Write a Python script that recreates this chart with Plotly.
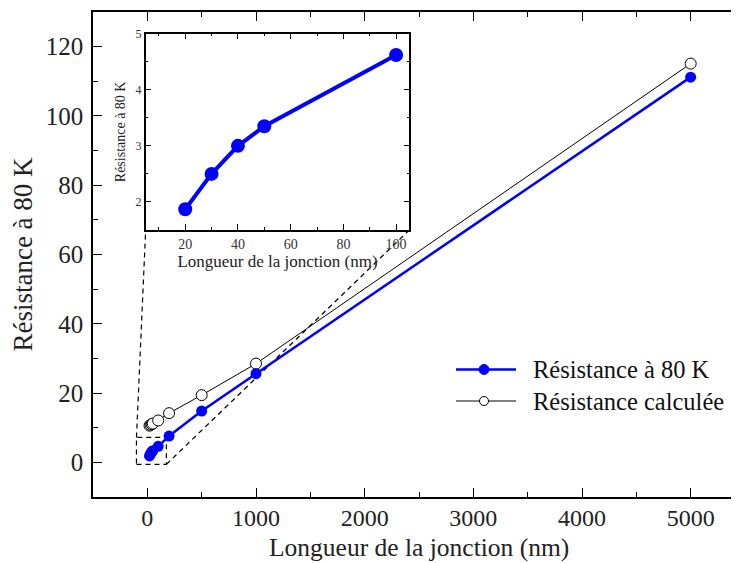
import plotly.graph_objects as go

# ---------------- data ----------------
longueur = [20, 30, 40, 50, 100, 200, 500, 1000, 5000]
r_80k = [1.87, 2.5, 3.0, 3.35, 4.62, 7.6, 14.8, 25.6, 111.2]
r_calc = [10.6, 10.8, 11.0, 11.2, 12.1, 14.2, 19.4, 28.5, 115.1]

inset_longueur = [20, 30, 40, 50, 100]
inset_r_80k = [1.87, 2.5, 3.0, 3.35, 4.62]

x_title = "Longueur de la jonction (nm)"
y_title = "Résistance à 80 K"
legend_names = ["Résistance à 80 K", "Résistance calculée"]

main_x_ticks = [0, 1000, 2000, 3000, 4000, 5000]
main_y_ticks = [0, 20, 40, 60, 80, 100, 120]
inset_x_ticks = [20, 40, 60, 80, 100]
inset_y_ticks = [2, 3, 4, 5]

# ---------------- style ----------------
FONT = "Liberation Serif"
BLUE = "#0000ff"
W, H = 739, 563
OFF = 8  # page body margin offset of the rendered figure
ML, MR, MT, MB = 85, 2, 4, 74
XR = [-500, 5500]
YR = [-10, 130]
INSET_XD = [0.0808, 0.4851]
INSET_YD = [0.5505, 0.9553]
zoom_box = dict(x0=-100, x1=175, y0=-0.6, y1=7.2)

fig = go.Figure()

fig.add_trace(go.Scatter(
    x=longueur, y=r_calc, mode="lines+markers", name=legend_names[1],
    line=dict(color="black", width=1),
    marker=dict(symbol="circle", size=11, color="white",
                line=dict(color="black", width=1)),
    showlegend=False, xaxis="x", yaxis="y"))
fig.add_trace(go.Scatter(
    x=longueur, y=r_80k, mode="lines+markers", name=legend_names[0],
    line=dict(color=BLUE, width=2.5),
    marker=dict(symbol="circle", size=11, color=BLUE),
    showlegend=False, xaxis="x", yaxis="y"))

fig.add_trace(go.Scatter(
    x=inset_longueur, y=inset_r_80k, mode="lines+markers",
    line=dict(color=BLUE, width=4),
    marker=dict(symbol="circle", size=14, color=BLUE),
    showlegend=False, xaxis="x2", yaxis="y2"))

axis_common = dict(showline=True, linecolor="black", linewidth=1.5,
                   mirror="ticks", ticks="inside", tickcolor="black",
                   showgrid=False, zeroline=False, automargin=False)

fig.update_layout(
    width=W, height=H, autosize=False,
    margin=dict(l=ML, r=MR, t=MT, b=MB, pad=0),
    paper_bgcolor="white", plot_bgcolor="white",
    font=dict(family=FONT, color="#111111"),
    xaxis=dict(domain=[0, 1], range=XR, tickvals=main_x_ticks,
               ticklen=9, tickwidth=1.3, ticklabelstandoff=-2,
               minor=dict(dtick=500, tick0=0, ticklen=5, ticks="inside",
                          tickcolor="black", tickwidth=1.1),
               tickfont=dict(size=24, family=FONT, color="#222"),
               **axis_common),
    yaxis=dict(domain=[0, 1], range=YR, tickvals=main_y_ticks,
               ticklen=9, tickwidth=1.3, ticklabelstandoff=3,
               minor=dict(dtick=10, tick0=0, ticklen=5, ticks="inside",
                          tickcolor="black", tickwidth=1.1),
               tickfont=dict(size=25, family=FONT, color="#222"),
               title=dict(text=y_title, font=dict(size=27, family=FONT, color="#222"),
                          standoff=5),
               **axis_common),
    xaxis2=dict(domain=INSET_XD, anchor="y2", range=[5, 105], tickvals=inset_x_ticks,
                ticklen=6, tickwidth=1,
                minor=dict(dtick=10, tick0=0, ticklen=3, ticks="inside",
                           tickcolor="black", tickwidth=1),
                tickfont=dict(size=14, family=FONT, color="#333"),
                title=dict(text=x_title, font=dict(size=17, family=FONT, color="#222"),
                           standoff=2),
                **axis_common),
    yaxis2=dict(domain=INSET_YD, anchor="x2", range=[1.5, 5], tickvals=inset_y_ticks,
                ticklen=6, tickwidth=1,
                minor=dict(dtick=0.5, tick0=0, ticklen=3, ticks="inside",
                           tickcolor="black", tickwidth=1),
                tickfont=dict(size=12, family=FONT, color="#333"),
                title=dict(text=y_title, font=dict(size=14, family=FONT, color="#222"),
                           standoff=7),
                **axis_common),
)

# zoom rectangle and connectors (dashed)
dash = "5px,4px"
fig.add_shape(type="rect", xref="x", yref="y", layer="below", **zoom_box,
              line=dict(color="black", width=1.2, dash=dash))

def paper_to_data(fx, fy):
    return XR[0] + fx * (XR[1] - XR[0]), YR[0] + fy * (YR[1] - YR[0])

blx, bly = paper_to_data(INSET_XD[0], INSET_YD[0])
brx, bry = paper_to_data(INSET_XD[1], INSET_YD[0])
fig.add_shape(type="line", xref="x", yref="y", layer="below",
              x0=zoom_box["x0"], y0=zoom_box["y1"], x1=blx, y1=bly,
              line=dict(color="black", width=1.2, dash=dash))
fig.add_shape(type="line", xref="x", yref="y", layer="below",
              x0=zoom_box["x1"], y0=zoom_box["y0"], x1=brx, y1=bry,
              line=dict(color="black", width=1.2, dash=dash))

# screen pixel positions converted to paper fractions
PW, PH = W - ML - MR, H - MT - MB
def px(xp):
    return (xp - OFF - ML) / PW
def py(yp):
    return (H - MB - (yp - OFF)) / PH

# main x-axis title
fig.add_annotation(xref="paper", yref="paper", x=0.5, y=py(547.5), text=x_title,
                   showarrow=False, xanchor="center", yanchor="middle",
                   font=dict(size=25.5, family=FONT, color="#222"))

# custom legend
leg_rows = [(369.5, BLUE, 2.5, BLUE, BLUE, 10), (401, "black", 1, "white", "black", 9)]
for (ypix, lc, lw, mfill, mline, msz), name in zip(leg_rows, legend_names):
    fig.add_shape(type="line", xref="paper", yref="paper",
                  x0=px(456), x1=px(516), y0=py(ypix), y1=py(ypix),
                  line=dict(color=lc, width=lw))
    fig.add_shape(type="circle", xref="paper", yref="paper",
                  xsizemode="pixel", ysizemode="pixel",
                  xanchor=px(484), yanchor=py(ypix),
                  x0=-msz / 2, x1=msz / 2, y0=-msz / 2, y1=msz / 2,
                  fillcolor=mfill, line=dict(color=mline, width=1))
    fig.add_annotation(xref="paper", yref="paper", x=px(531), y=py(ypix),
                       text=name, showarrow=False, xanchor="left", yanchor="middle",
                       font=dict(size=24.5, family=FONT, color="#111"))

fig.write_html("out.html")
